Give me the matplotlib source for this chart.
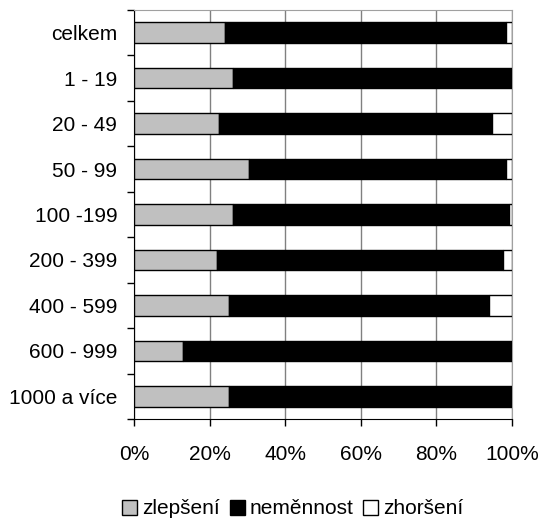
import numpy as np
import matplotlib.pyplot as plt
from matplotlib.ticker import PercentFormatter, FixedLocator

plt.rcParams['font.family'] = ['Liberation Sans', 'DejaVu Sans']

categories = ["celkem", "1 - 19", "20 - 49", "50 - 99", "100 -199",
              "200 - 399", "400 - 599", "600 - 999", "1000 a více"]
zlepseni = [24.1, 26.2, 22.5, 30.4, 26.2, 21.9, 25.0, 13.0, 25.0]
nemennost = [74.4, 73.8, 72.3, 68.1, 72.9, 75.6, 68.8, 87.0, 75.0]
zhorseni = [1.5, 0.0, 5.2, 1.5, 0.9, 2.5, 6.2, 0.0, 0.0]

series = [
    ("zlepšení", zlepseni, "#c0c0c0"),
    ("neměnnost", nemennost, "black"),
    ("zhoršení", zhorseni, "white"),
]

fig = plt.figure(figsize=(5.43, 5.21), dpi=100)
ax = fig.add_axes([134 / 543, 1 - 419 / 521, 378 / 543, 409 / 521])

y = np.arange(len(categories))
left = np.zeros(len(categories))
for name, vals, color in series:
    vals = np.array(vals)
    ax.barh(y, vals, left=left, height=0.45, color=color,
            edgecolor="black", linewidth=1, label=name, zorder=3)
    left += vals

ax.set_xlim(0, 100)
ax.set_ylim(len(categories) - 0.5, -0.5)
ax.xaxis.set_major_formatter(PercentFormatter(decimals=0))
ax.set_xticks(np.arange(0, 101, 20))
ax.grid(axis="x", color="#808080", linewidth=1, zorder=0)

ax.set_yticks(y)
ax.set_yticklabels(categories)
ax.yaxis.set_minor_locator(FixedLocator(np.arange(-0.5, len(categories), 1)))
ax.tick_params(axis="y", which="major", length=0, pad=12, labelsize=15)
ax.tick_params(axis="y", which="minor", length=5, width=1, direction="out")
ax.tick_params(axis="x", length=5, width=1, direction="out", pad=13.5, labelsize=15)

for side in ["top", "right"]:
    ax.spines[side].set_color("#a0a0a0")
for side in ["left", "bottom"]:
    ax.spines[side].set_color("black")

ax.legend(loc="center", bbox_to_anchor=(293 / 543, 1 - 509 / 521),
          bbox_transform=fig.transFigure, ncol=3, frameon=False,
          handlelength=0.72, handleheight=0.72, handletextpad=0.25,
          columnspacing=0.45, fontsize=15, borderpad=0)

fig.savefig("out.png", dpi=100)
